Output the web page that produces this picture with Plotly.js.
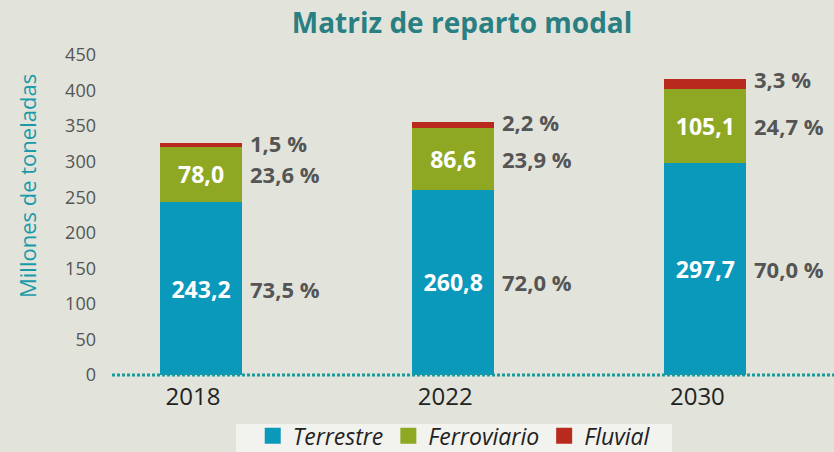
<!DOCTYPE html>
<html>
<head>
<meta charset="utf-8">
<script src="https://cdn.plot.ly/plotly-3.0.1.min.js"></script>
<style>html,body{margin:0;padding:0;background:#e2e4dc;}</style>
</head>
<body>
<div id="chart" style="width:834px;height:452px;"></div>
<script>
const years = ['2018', '2022', '2030'];
const terrestre = [243.2, 260.8, 297.7];
const ferroviario = [78.0, 86.6, 105.1];
const fluvial = [5.0, 8.0, 14.0];
const pctTerrestre = [73.5, 72.0, 70.0];
const pctFerroviario = [23.6, 23.9, 24.7];
const pctFluvial = [1.5, 2.2, 3.3];
const seriesNames = ['Terrestre', 'Ferroviario', 'Fluvial'];
const seriesColors = ['#0a98bb', '#8fa823', '#b82a1e'];

const FONT = 'Open Sans';
const fmt = v => v.toFixed(1).replace('.', ',') + ' %';

const barCommon = {
  type: 'bar', x: years, width: 0.325, showlegend: false,
  textposition: 'inside', insidetextanchor: 'middle', textangle: 0,
  constraintext: 'none',
  textfont: {family: FONT, size: 23, color: '#ffffff', weight: 'bold'},
  hoverinfo: 'skip'
};
const seriesValues = [terrestre, ferroviario, fluvial];
const traces = seriesValues.map((vals, k) => Object.assign({}, barCommon, {
  name: seriesNames[k], y: vals, marker: {color: seriesColors[k]},
  texttemplate: k < 2 ? '%{y:.1f}' : ''
}));
// legend entries with larger square swatches
seriesNames.forEach((nm, k) => {
  traces.push({
    type: 'scatter', mode: 'markers', x: [null], y: [null], name: nm,
    marker: {symbol: 'square', size: 16, color: seriesColors[k]},
    hoverinfo: 'skip', showlegend: true
  });
});

const annotations = [];
years.forEach((yr, i) => {
  const t = terrestre[i], f = ferroviario[i], r = fluvial[i];
  const items = [
    [t / 2, pctTerrestre[i]],
    [t + f / 2, pctFerroviario[i]],
    [t + f + r, pctFluvial[i]]
  ];
  items.forEach(([yv, p]) => {
    annotations.push({
      x: i, y: yv, xref: 'x', yref: 'y', text: fmt(p), showarrow: false,
      xanchor: 'left', yanchor: 'middle', xshift: 47,
      font: {family: FONT, size: 22, color: '#555555', weight: 'bold'}
    });
  });
});
annotations.push({
  text: 'Millones de toneladas', xref: 'paper', yref: 'paper',
  x: -0.118, y: 0.59, xanchor: 'center', yanchor: 'middle', textangle: -90,
  showarrow: false, font: {family: FONT, size: 22, color: '#1a9aa8'}
});

const layout = {
  width: 834, height: 452,
  paper_bgcolor: '#e2e4dc', plot_bgcolor: '#e2e4dc',
  separators: ',.',
  barmode: 'stack',
  margin: {l: 112, r: 0, t: 55, b: 77, autoexpand: false},
  font: {family: FONT},
  title: {
    text: 'Matriz de reparto modal', x: 0.554, xref: 'container', xanchor: 'center',
    y: 0.948, yanchor: 'middle',
    font: {family: FONT, size: 28, color: '#2a7f82', weight: 'bold'}
  },
  xaxis: {
    type: 'category', range: [-0.353, 2.51], showgrid: false, showline: false, zeroline: false,
    ticks: '', tickfont: {family: FONT, size: 24, color: '#222222'}, ticklabelshift: -8, ticklabelstandoff: 5
  },
  yaxis: {
    range: [0, 450], dtick: 50, showgrid: false, showline: false,
    zeroline: false,
    ticks: '', ticklabelstandoff: 15,
    tickfont: {family: FONT, size: 18, color: '#555555'}
  },
  shapes: [
    {
      type: 'line', xref: 'paper', x0: 0, x1: 1, yref: 'paper', y0: 0, y1: 0,
      line: {color: '#1a9a9a', width: 3, dash: '3px,2px'}, layer: 'above'
    },
    {
      type: 'rect', xref: 'paper', x0: 0.1717, x1: 0.7756, yref: 'paper', y0: -0.153, y1: -0.3,
      fillcolor: '#f2f2ee', line: {width: 0}, layer: 'below'
    }
  ],
  annotations: annotations,
  showlegend: true,
  legend: {
    orientation: 'h', x: 0.474, xanchor: 'center', xref: 'paper',
    y: -0.19, yref: 'paper', yanchor: 'middle',
    bgcolor: 'rgba(0,0,0,0)', traceorder: 'normal', itemsizing: 'trace',
    font: {family: FONT, size: 23, color: '#222222', style: 'italic'}
  }
};

Plotly.newPlot('chart', traces, layout, {displayModeBar: false, staticPlot: true});
</script>
</body>
</html>
